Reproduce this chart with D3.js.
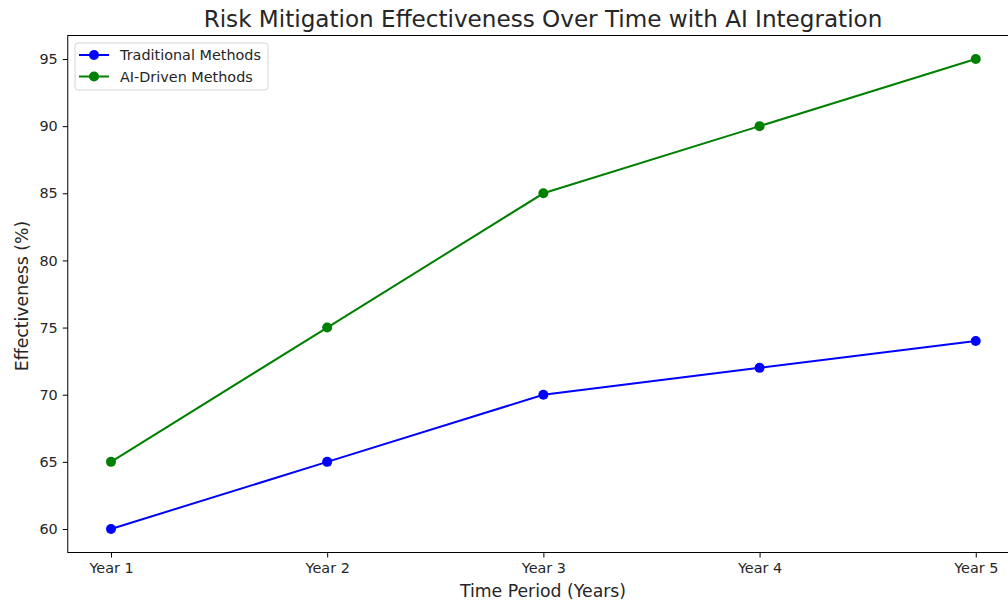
<!DOCTYPE html>
<html><head><meta charset="utf-8">
<script src="https://cdn.jsdelivr.net/npm/d3@7"></script>
<style>body{margin:0;background:#fff;} text{font-family:"DejaVu Sans",sans-serif;fill:#262626;}</style>
</head><body><svg id="c" width="1008" height="601"></svg>
<script>
const categories = ["Year 1","Year 2","Year 3","Year 4","Year 5"];
const traditional = [60,65,70,72,74];
const aiDriven = [65,75,85,90,95];
const yTicks = [60,65,70,75,80,85,90,95];
const seriesNames = ["Traditional Methods","AI-Driven Methods"];
const seriesColors = ["#0000ff","#008000"];

const svg = d3.select("#c");
const L=67.75, R=1019, T=35.5, B=552.5;
const x = d3.scaleLinear().domain([-0.2,4.2]).range([L,R]);
const y = d3.scaleLinear().domain([58.25,96.75]).range([B,T]);

svg.append("rect").attr("x",0).attr("y",0).attr("width",1008).attr("height",601).attr("fill","#fff");

const xAxis = svg.append("g").attr("transform",`translate(0,${B})`)
  .call(d3.axisBottom(x).tickValues(d3.range(categories.length)).tickFormat(i=>categories[i]).tickSize(5).tickPadding(5));
const yAxis = svg.append("g").attr("transform",`translate(${L},0)`)
  .call(d3.axisLeft(y).tickValues(yTicks).tickSize(5).tickPadding(5));
[xAxis,yAxis].forEach(g=>{
  g.select(".domain").remove();
  g.selectAll("line").attr("stroke","#000").attr("stroke-width",1);
  g.selectAll("text").attr("font-size","14.4px").attr("font-family","DejaVu Sans").attr("fill","#262626");
});
// spines
svg.append("rect").attr("x",L).attr("y",T).attr("width",R-L).attr("height",B-T)
  .attr("fill","none").attr("stroke","#000").attr("stroke-width",1);

const data=[traditional,aiDriven];
const line=d3.line().x((d,i)=>x(i)).y(d=>y(d));
data.forEach((s,k)=>{
  svg.append("path").datum(s).attr("d",line).attr("fill","none").attr("stroke",seriesColors[k]).attr("stroke-width",2);
  svg.selectAll(null).data(s).enter().append("circle")
    .attr("cx",(d,i)=>x(i)).attr("cy",d=>y(d)).attr("r",5).attr("fill",seriesColors[k]);
});

svg.append("text").attr("x",543).attr("y",27).attr("text-anchor","middle").attr("font-size","23.1px").text("Risk Mitigation Effectiveness Over Time with AI Integration");
svg.append("text").attr("x",543).attr("y",597).attr("text-anchor","middle").attr("font-size","17.3px").text("Time Period (Years)");
svg.append("text").attr("transform","translate(27.5,296) rotate(-90)").attr("text-anchor","middle").attr("font-size","17.3px").text("Effectiveness (%)");

// legend
const lg=svg.append("g");
lg.append("rect").attr("x",75).attr("y",43).attr("width",193).attr("height",47).attr("rx",3)
  .attr("fill","#fff").attr("fill-opacity",0.8).attr("stroke","#d6d6d6");
seriesNames.forEach((n,k)=>{
  const yy=55+k*21.5;
  lg.append("line").attr("x1",79).attr("x2",109).attr("y1",yy).attr("y2",yy).attr("stroke",seriesColors[k]).attr("stroke-width",2);
  lg.append("circle").attr("cx",94).attr("cy",yy).attr("r",5).attr("fill",seriesColors[k]);
  lg.append("text").attr("x",120).attr("y",yy+5).attr("font-size","14.4px").text(n);
});
</script></body></html>
